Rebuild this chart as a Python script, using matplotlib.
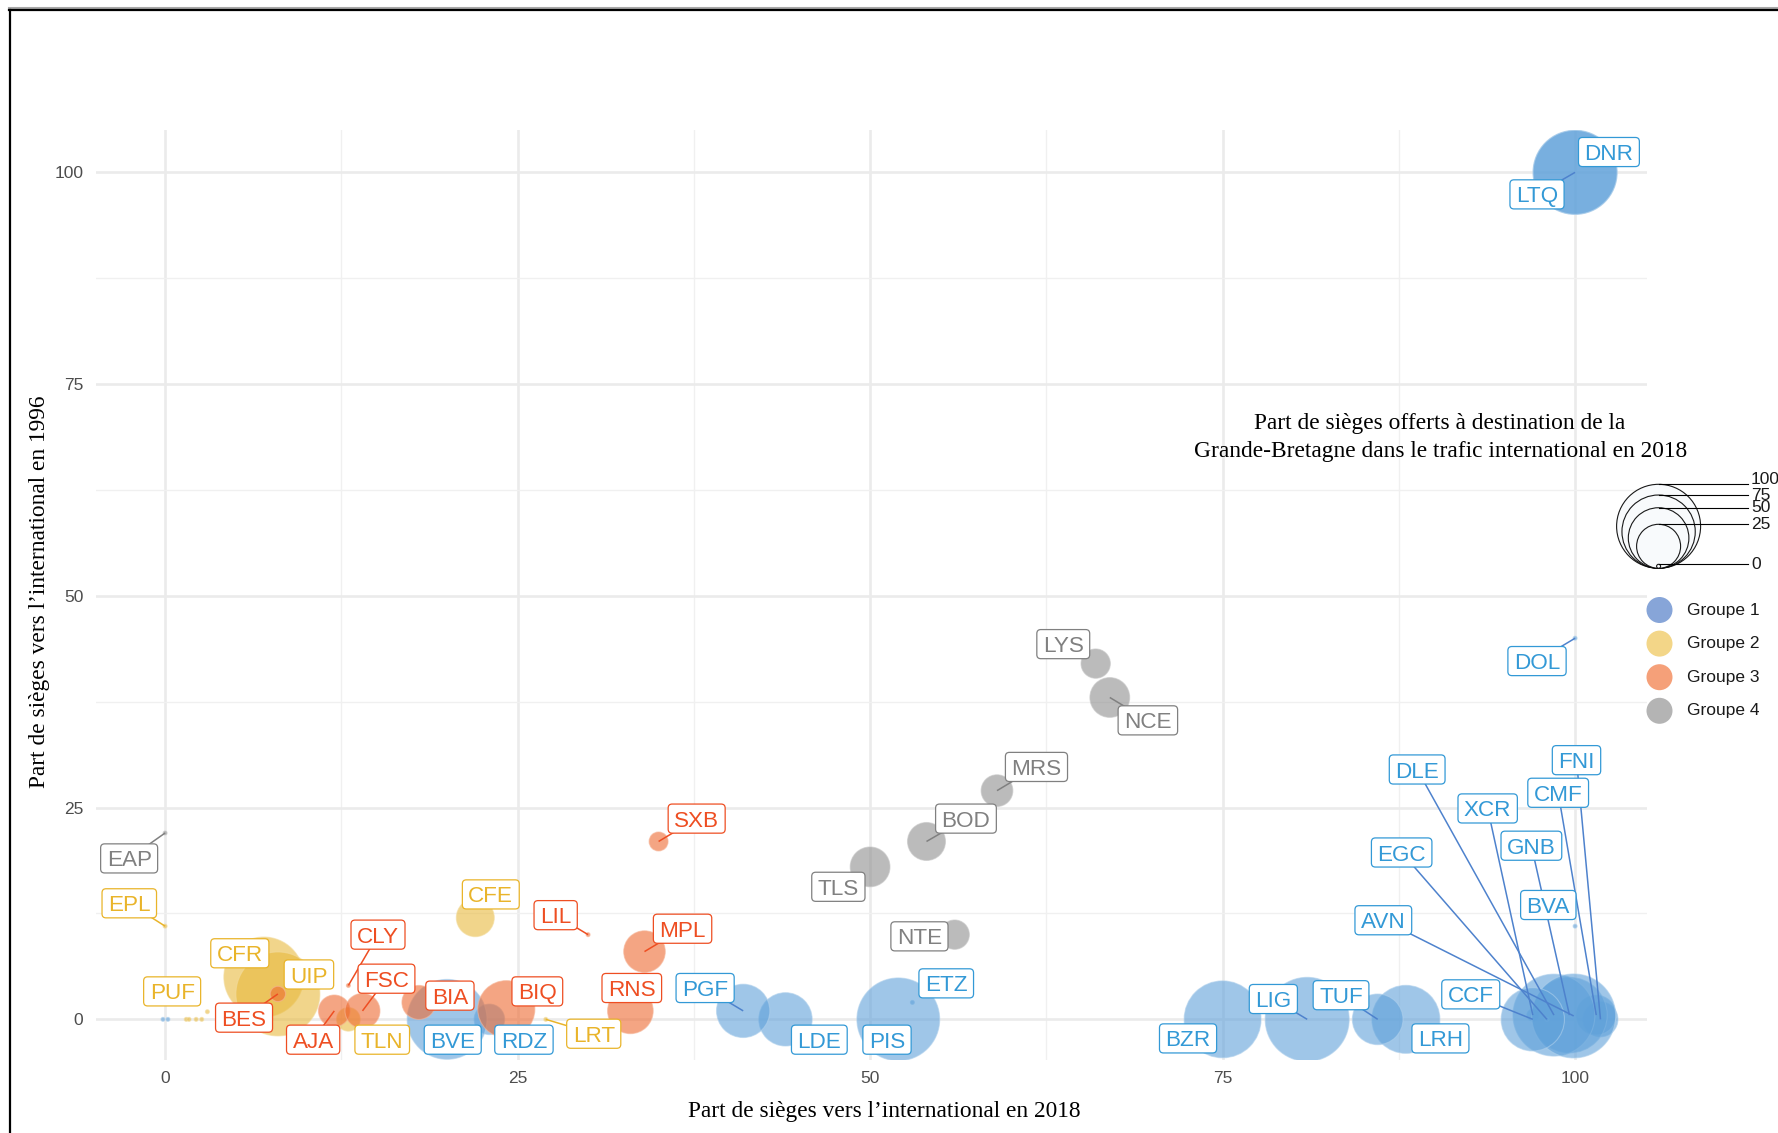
import numpy as np
import matplotlib
matplotlib.use('Agg')
import matplotlib.pyplot as plt
from matplotlib.patches import Circle, FancyBboxPatch
from matplotlib.transforms import IdentityTransform

# --- data -------------------------------------------------------------
# airport code, group, share of international seats in 2018 / 1996 (as drawn),
# share of international seats to Great Britain in 2018
codes = ['DNR', 'LTQ', 'DOL', 'BVA', 'FNI', 'CMF', 'XCR', 'GNB', 'DLE', 'EGC', 'AVN', 'CCF',
         'LRH', 'TUF', 'LIG', 'BZR', 'ETZ', 'PIS', 'LDE', 'PGF', 'RDZ', 'BVE', '', '',
         'CFR', 'UIP', 'TLN', 'CFE', 'LRT', 'EPL', 'PUF', '', '', '', '',
         'BES', 'AJA', 'CLY', 'FSC', 'BIA', 'BIQ', 'LIL', 'RNS', 'MPL', 'SXB',
         'EAP', 'TLS', 'BOD', 'MRS', 'NTE', 'LYS', 'NCE']
groups = [1] * 24 + [2] * 11 + [3] * 10 + [4] * 7
share_2018 = [100, 100, 100, 100, 101.8, 101.5, 97, 99.6, 98.5, 98, 99.9, 97,
              88, 86, 81, 75, 53, 52, 44, 41, 23, 20, -0.15, 0.2,
              7, 8, 13, 22, 27, 0, 3, 1.5, 1.7, 2.2, 2.6,
              8, 12, 13, 14, 18, 24.2, 30, 33, 34, 35,
              0, 50, 54, 59, 56, 66, 67]
share_1996 = [100, 100, 45, 11, 0, 0.5, 0.5, 0.5, 0.5, 0, 0.4, 0,
              0, 0, 0, 0, 2, 0, 0, 1, 0, 0, 0, 0,
              5, 3, 0, 12, 0, 11, 0.9, 0, 0, 0, 0,
              3, 1, 4, 1, 2, 1.2, 10, 1, 8, 21,
              22, 18, 21, 27, 10, 42, 38]
share_gb = [100, 100, 0, 0, 15, 20, 1, 80, 95, 0, 100, 55,
            64, 34, 100, 83, 0, 97, 38, 38, 11, 90, 0, 0,
            90, 100, 6, 18, 0, 0, 0, 0, 0, 0, 0,
            2, 12, 0, 15, 14, 44, 0, 27, 22, 3.5,
            0, 20, 18, 12, 10, 10, 20]
group_names = ['Groupe 1', 'Groupe 2', 'Groupe 3', 'Groupe 4']
size_breaks = [0, 25, 50, 75, 100]
x_ticks = [0, 25, 50, 75, 100]
y_ticks = [0, 25, 50, 75, 100]

# where the repelled labels ended up (data coordinates)
label_pos = {
    'DNR': (102.4, 102.4), 'LTQ': (97.3, 97.4), 'DOL': (97.3, 42.3), 'BVA': (98.1, 13.5),
    'FNI': (100.1, 30.6), 'CMF': (98.8, 26.75), 'XCR': (93.8, 24.9), 'GNB': (96.9, 20.5),
    'DLE': (88.8, 29.5), 'EGC': (87.7, 19.7), 'AVN': (86.4, 11.7), 'CCF': (92.6, 2.95),
    'LRH': (90.45, -2.25), 'TUF': (83.4, 2.85), 'LIG': (78.6, 2.4), 'BZR': (72.55, -2.25),
    'ETZ': (55.4, 4.25), 'PIS': (51.2, -2.4), 'LDE': (46.4, -2.4), 'PGF': (38.3, 3.7),
    'RDZ': (25.45, -2.4), 'BVE': (20.4, -2.4),
    'CFR': (5.3, 7.8), 'UIP': (10.2, 5.3), 'TLN': (15.4, -2.4), 'CFE': (23.1, 14.75),
    'LRT': (30.4, -1.7), 'EPL': (-2.54, 13.7), 'PUF': (0.5, 3.3),
    'BES': (5.6, 0.2), 'AJA': (10.5, -2.4), 'CLY': (15.1, 10.0), 'FSC': (15.7, 4.8),
    'BIA': (20.2, 2.8), 'BIQ': (26.4, 3.3), 'LIL': (27.7, 12.3), 'RNS': (33.1, 3.7),
    'MPL': (36.7, 10.7), 'SXB': (37.7, 23.7),
    'EAP': (-2.55, 19.0), 'TLS': (47.75, 15.65), 'BOD': (56.8, 23.7), 'MRS': (61.8, 29.8),
    'NTE': (53.5, 9.8), 'LYS': (63.7, 44.3), 'NCE': (69.7, 35.3),
}

text_col = {1: '#3399D6', 2: '#E9B42A', 3: '#EE4E22', 4: '#808080'}
seg_col = {1: '#4E82CD', 2: '#E9B42A', 3: '#EE4E22', 4: '#808080'}
fill_col = {1: '#5FA1DA', 2: '#E8BA3E', 3: '#EE6A30', 4: '#8E8E8E'}
edge_col = {1: '#AFD0EC', 2: '#F3DC9E', 3: '#F6B497', 4: '#C6C6C6'}
key_col = {1: '#87A5D8', 2: '#F3D688', 3: '#F5A079', 4: '#B4B4B4'}

W, H, DPI = 1778, 1133, 100
FONT_PX = 22.5            # label font height in pixels
CAP_PX = 0.716 * FONT_PX  # cap height of Liberation Sans
PADX, PADY = 6.0, 6.5


def diam_px(v):
    # area proportional to the share, like scale_size
    return 4 + 80 * np.sqrt(v / 100.0)


fig = plt.figure(figsize=(W / DPI, H / DPI), dpi=DPI)
ax = fig.add_axes([96 / W, 1 - 1060 / H, (1647 - 96) / W, (1060 - 130) / H])
ax.set_xlim(-4.9, 105.1)
ax.set_ylim(-4.8, 105.0)

# grid like theme_minimal
ax.set_xticks(x_ticks)
ax.set_yticks(y_ticks)
ax.set_xticks([12.5, 37.5, 62.5, 87.5], minor=True)
ax.set_yticks([12.5, 37.5, 62.5, 87.5], minor=True)
ax.grid(which='major', color='#EBEBEB', lw=1.9)
ax.grid(which='minor', color='#F0F0F0', lw=1.0)
ax.set_axisbelow(True)
for s in ax.spines.values():
    s.set_visible(False)
ax.tick_params(which='both', length=0)
ax.tick_params(axis='x', pad=8, labelsize=12.5, labelcolor='#4D4D4D')
ax.tick_params(axis='y', pad=9, labelsize=12.5, labelcolor='#4D4D4D')
for lab in ax.get_xticklabels() + ax.get_yticklabels():
    lab.set_family('Liberation Sans')

# bubbles
x = np.array(share_2018, dtype=float)
y = np.array(share_1996, dtype=float)
g = np.array(groups)
sizes = (diam_px(np.array(share_gb, dtype=float)) * 72.0 / DPI) ** 2
for k in [1, 2, 3, 4]:
    m = g == k
    ax.scatter(x[m], y[m], s=sizes[m], facecolors=fill_col[k], edgecolors=edge_col[k],
               linewidths=0.8, alpha=0.6, zorder=2)

# labels: text with caps centred on the label position
items = []
for i, code in enumerate(codes):
    if not code:
        continue
    lx, ly = label_pos[code]
    t = ax.annotate(code, (lx, ly), xytext=(0, -CAP_PX / 2 * 72 / DPI),
                    textcoords='offset points', ha='center', va='baseline',
                    fontsize=FONT_PX * 72 / DPI, color=text_col[groups[i]],
                    family='Liberation Sans', zorder=6, annotation_clip=False)
    items.append((t, i, lx, ly))

fig.canvas.draw()
renderer = fig.canvas.get_renderer()
for t, i, lx, ly in items:
    c = text_col[groups[i]]
    w = t.get_window_extent(renderer).width
    cx, cy = ax.transData.transform((lx, ly))
    x0, x1 = cx - w / 2 - PADX, cx + w / 2 + PADX
    y0, y1 = cy - CAP_PX / 2 - PADY, cy + CAP_PX / 2 + PADY
    ax.add_patch(FancyBboxPatch((x0, y0), x1 - x0, y1 - y0,
                                boxstyle='round,pad=0,rounding_size=4', fc='white',
                                ec=c, lw=0.9, transform=IdentityTransform(),
                                zorder=5, clip_on=False))
    # segment only when the point is far enough from the box
    px, py = ax.transData.transform((x[i], y[i]))
    dx = max(x0 - px, 0, px - x1)
    dy = max(y0 - py, 0, py - y1)
    if np.hypot(dx, dy) > 9.5:
        ax.plot([x[i], lx], [y[i], ly], color=seg_col[groups[i]], lw=1.1, zorder=4,
                solid_capstyle='butt')

# axis titles
fig.text(884 / W, 1 - 1111 / H, 'Part de sièges vers l’international en 2018',
         ha='center', va='center', fontsize=16.8, family='Liberation Serif')
fig.text(40 / W, 1 - 592 / H, 'Part de sièges vers l’international en 1996',
         ha='center', va='center', rotation=90, fontsize=16.8, family='Liberation Serif')

# overlay in pixel coordinates for legends and frame
ov = fig.add_axes([0, 0, 1, 1], zorder=10)
ov.set_xlim(0, W)
ov.set_ylim(H, 0)
ov.axis('off')
ov.patch.set_alpha(0)

ov.plot([9, W], [7.5, 7.5], color='#A8A8A8', lw=1.5)
ov.plot([9, W], [10, 10], color='black', lw=1.6)
ov.plot([9.5, 9.5], [10, H], color='black', lw=1.6)

ov.text(1440, 423, 'Part de sièges offerts à destination de la', ha='center',
        va='center', fontsize=16.8, family='Liberation Serif')
ov.text(1441, 451, 'Grande-Bretagne dans le trafic international en 2018', ha='center',
        va='center', fontsize=16.8, family='Liberation Serif')

# size legend: nested circles sharing the same bottom
cx, bottom = 1658.6, 568.3
for v in sorted(size_breaks, reverse=True):
    d = diam_px(v)
    ov.add_patch(Circle((cx, bottom - d / 2), d / 2, fc='#F8FAFC', ec='black', lw=0.8,
                        alpha=0.9))
for v in size_breaks:
    top = bottom - diam_px(v)
    ov.plot([cx, 1748], [top, top], color='black', lw=0.8)
    ty = top - 5 if v == max(size_breaks) else top
    ov.text(1751, ty, str(v), ha='left', va='center', fontsize=12.5,
            family='Liberation Sans', color='#1A1A1A')

# colour legend
for j, name in enumerate(group_names):
    yy = 610 + j * 33.6
    ov.add_patch(Circle((1659.5, yy), 13, fc=key_col[j + 1], ec='none'))
    ov.text(1687, yy, name, ha='left', va='center', fontsize=12.5,
            family='Liberation Sans', color='#1A1A1A')

fig.savefig('out.png', dpi=DPI)
